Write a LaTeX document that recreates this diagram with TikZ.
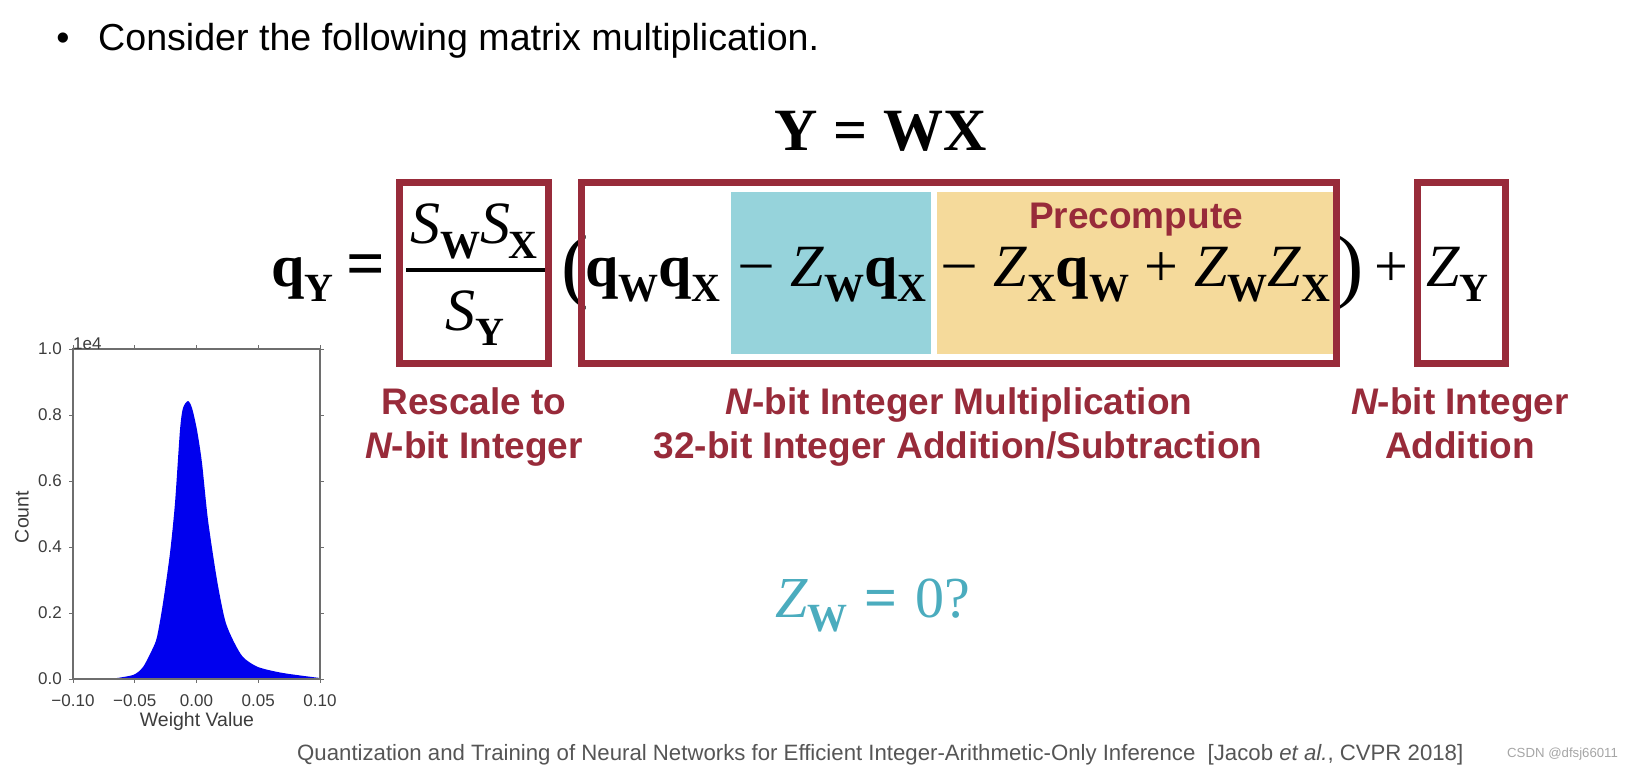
\documentclass[tikz,border=0pt]{standalone}
\usepackage{fontspec}
\setmainfont{Liberation Sans}
\newfontfamily\tms{Liberation Serif}
\definecolor{boxred}{RGB}{152,43,58}
\definecolor{cyanfill}{RGB}{150,211,219}
\definecolor{tanfill}{RGB}{245,218,155}
\definecolor{zwcol}{RGB}{75,172,190}
\definecolor{histblue}{RGB}{0,0,238}
\definecolor{axgray}{RGB}{110,110,110}
\definecolor{ticktext}{RGB}{60,60,60}
\newcommand\eqsize{\fontsize{60}{60}\selectfont}
\newcommand\bsub[1]{\raisebox{-0.25em}{\fontsize{40}{40}\selectfont\bfseries #1}}
\newcommand\Zi{{\itshape Z}}
\newcommand\Si{{\itshape S}}
\newcommand\bq{{\bfseries q}}
\newcommand\msp{\hspace{0.26em}}
\newcommand\mminus{\scalebox{1.12}[1]{−}}
\tikzset{
  eqpart/.style={inner sep=0, anchor=base west, font=\tms\eqsize},
  lab/.style={inner sep=0, anchor=base, text=boxred, font=\bfseries\fontsize{37}{37}\selectfont},
  redbox/.style={draw=boxred, line width=7pt},
  ticklab/.style={inner sep=0, text=ticktext, font=\fontsize{17}{17}\selectfont},
  axlab/.style={inner sep=0, text=ticktext, font=\fontsize{19.5}{19.5}\selectfont},
}
\begin{document}
\begin{tikzpicture}[x=1pt,y=-1pt]
\useasboundingbox (0,0) rectangle (1646,768);
% heading
\node[inner sep=0, anchor=base] (bul) at (63,51) {\fontsize{37.6}{37.6}\selectfont •};
\node[inner sep=0, anchor=base west] (head) at (98,51) {\fontsize{37.6}{37.6}\selectfont Consider the following matrix multiplication.};
\node[inner sep=0, anchor=base] (ywx) at (881,150) {\tms\bfseries\fontsize{60}{60}\selectfont Y\hspace{0.26em}=\hspace{0.26em}WX};
% fills
\fill[cyanfill] (731,192) rectangle (931,354);
\fill[tanfill] (937,192) rectangle (1333,354);
% equation
\node[eqpart] (qy) at (271,286) {\bq\bsub{Y}};
\node[eqpart] (eqs) at (346,286) {\bfseries\fontsize{68}{68}\selectfont =};
\node[eqpart, anchor=base] (num) at (474,243) {\Si\bsub{W}\Si\kern-0.03em\bsub{X}};
\node[eqpart, anchor=base] (den) at (475,330) {\Si\bsub{Y}};
\draw[line width=3.5pt] (406,270) -- (545,270);
\node[eqpart] (lp) at (561,292) {\fontsize{82}{82}\selectfont (};
\node[eqpart] (sa) at (585,286) {\bq\bsub{W}\bq\bsub{X}};
\node[eqpart] (sb) at (737,286) {\mminus\msp\Zi\bsub{W}\bq\bsub{X}};
\node[eqpart] (sc) at (940,286) {\mminus\msp\Zi\bsub{X}\bq\bsub{W}\msp+\msp\Zi\bsub{W}\Zi\bsub{X}};
\node[eqpart] (rp) at (1336,292) {\fontsize{82}{82}\selectfont )};
\node[eqpart] (pl) at (1374,286) {+};
\node[eqpart] (zy) at (1426,286) {\Zi\bsub{Y}};
\node[inner sep=0, anchor=base, text=boxred, font=\bfseries\fontsize{37}{37}\selectfont] (pre) at (1136,228) {Precompute};
% boxes
\draw[redbox] (399.5,182.5) rectangle (548.5,363.5);
\draw[redbox] (581.5,182.5) rectangle (1336.5,363.5);
\draw[redbox] (1417.5,182.5) rectangle (1505.5,363.5);
% labels
\node[lab] (l1a) at (474,414) {Rescale to};
\node[lab] (l1b) at (474,458) {{\itshape N}-bit Integer};
\node[lab] (l2a) at (959,414) {{\itshape N}-bit Integer Multiplication};
\node[lab] (l2b) at (958,458) {32-bit Integer Addition/Subtraction};
\node[lab] (l3a) at (1460,414) {{\itshape N}-bit Integer};
\node[lab] (l3b) at (1460,458) {Addition};
% Zw = 0?
\node[inner sep=0, anchor=base west, text=zwcol, font=\tms\fontsize{58}{58}\selectfont] (zw) at (775,617) {\Zi\raisebox{-0.25em}{\fontsize{40}{40}\selectfont\bfseries W}\hspace{0.3em}{\bfseries =}\hspace{0.3em}0?};
% citation
\node[inner sep=0, anchor=base west, text={rgb,255:red,85;green,85;blue,85}, font=\fontsize{22.2}{22.2}\selectfont] (cite) at (297,760) {Quantization and Training of Neural Networks for Efficient Integer-Arithmetic-Only Inference~~[Jacob {\itshape et al.}, CVPR 2018]};
\node[inner sep=0, anchor=base west, text={rgb,255:red,165;green,165;blue,165}, font=\fontsize{13.2}{13.2}\selectfont] (csdn) at (1507,757) {CSDN @dfsj66011};
% histogram
\fill[histblue] plot[smooth, tension=0.45] coordinates {
(110,679) (133,675) (143,667) (152,650) (157,637) (163,603) (170,553) (175,503) (180,430) (183,408) (188,401) (192,408) (197,430) (202,463) (208,520) (217,580) (225,620) (233,640) (243,657) (258,667) (283,673) (320,678)} -- (320,679) -- (110,679) -- cycle;
\draw[axgray, line width=1.2pt] (73,349) rectangle (320,679);
\foreach \yy/\lb in {679/0.0,613/0.2,547/0.4,481/0.6,415/0.8,349/1.0}{
  \draw[axgray, line width=1pt] (69,\yy) -- (73,\yy);
  \draw[axgray, line width=1pt] (320,\yy) -- (324,\yy);
  \node[ticklab, anchor=east] at (62,\yy) {\lb};
}
\foreach \xx/\lb in {73/−0.10,134.75/−0.05,196.5/0.00,258.25/0.05,320/0.10}{
  \draw[axgray, line width=1pt] (\xx,679) -- (\xx,683);
  \draw[axgray, line width=1pt] (\xx,349) -- (\xx,345);
  \node[ticklab, anchor=base] at (\xx,706) {\lb};
}
\node[ticklab, anchor=base west] (e4) at (73,349) {1e4};
\node[axlab, anchor=base] (xl) at (197,726) {Weight Value};
\node[axlab, rotate=90] (yl) at (22,517) {Count};
\end{tikzpicture}
\end{document}
